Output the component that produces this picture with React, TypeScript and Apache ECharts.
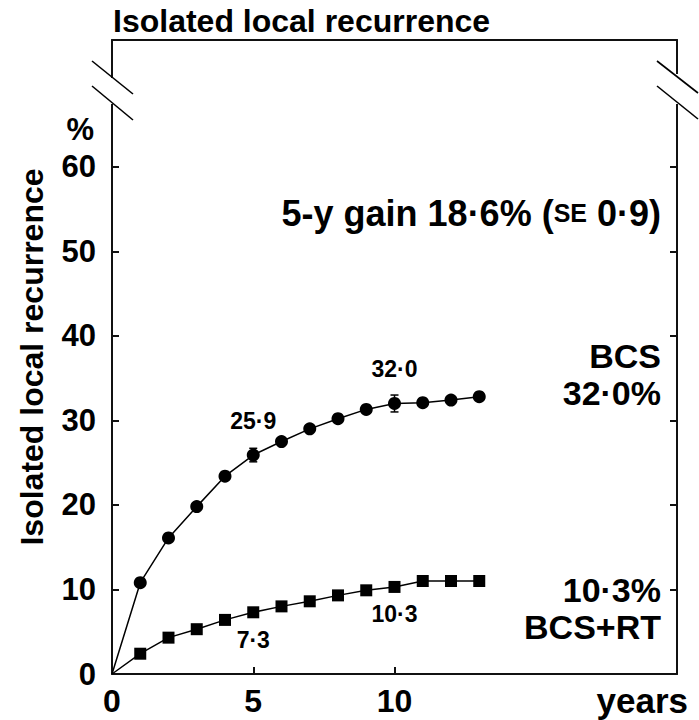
import React, { useEffect, useRef } from "react";
import * as echarts from "echarts";

const years = [0, 1, 2, 3, 4, 5, 6, 7, 8, 9, 10, 11, 12, 13];
const bcs = [0, 10.8, 16.1, 19.8, 23.4, 25.9, 27.5, 29.0, 30.2, 31.3, 32.0, 32.1, 32.4, 32.8];
const bcsRt = [0, 2.4, 4.3, 5.3, 6.4, 7.3, 8.0, 8.6, 9.3, 9.9, 10.3, 11.0, 11.0, 11.0];
const bcsLabelYears = [5, 10];
const bcsLabels = ["25·9", "32·0"];
const rtLabelYears = [5, 10];
const rtLabels = ["7·3", "10·3"];
const errYears = [5, 10];
const errValues = [25.9, 32.0];
const errSize = [0.8, 1.0];
const xTickLabels = [0, 5, 10];
const xTicks = [5, 10];
const yTickLabels = [0, 10, 20, 30, 40, 50, 60];
const yTicks = [10, 20, 30, 40, 50, 60];
const X_MAX = 20;
const Y_MAX = 75;

const FONT = "Liberation Sans, Arial, sans-serif";
const BLACK = "#000000";
const FRAME = "#111111";

export default function App() {
  const ref = useRef<HTMLDivElement>(null);
  useEffect(() => {
    document.body.style.margin = "0";
    const chart = echarts.init(ref.current!, null, { renderer: "svg" });
    const mk = (vals: number[], ly: number[], lt: string[], pos: string, dist: number) =>
      years.map((x, i) => {
        const j = ly.indexOf(x);
        const item: any = { value: [x, vals[i]] };
        if (i === 0) item.symbol = "none";
        if (j >= 0) {
          item.label = {
            show: true,
            position: pos,
            distance: dist,
            formatter: lt[j],
            fontFamily: FONT,
            fontWeight: "bold",
            fontSize: 23,
            color: BLACK,
          };
        }
        return item;
      });
    const axisTxt = { fontFamily: FONT, fontWeight: "bold" as const, fontSize: 31, color: BLACK };
    const frameLine = { show: true, onZero: false, lineStyle: { color: FRAME, width: 2 } };
    const tickSt = { color: FRAME, width: 2 };
    chart.setOption({
      animation: false,
      backgroundColor: "#ffffff",
      title: {
        text: "Isolated local recurrence",
        left: 108,
        top: 0,
        textStyle: { fontFamily: FONT, fontWeight: "bold", fontSize: 32, color: BLACK },
      },
      grid: { left: 112, top: 40, width: 565, height: 634 },
      xAxis: [
        {
          type: "value",
          min: 0,
          max: X_MAX,
          splitLine: { show: false },
          axisLine: frameLine,
          axisTick: { show: true, inside: true, length: 7, customValues: xTicks, lineStyle: tickSt },
          axisLabel: { customValues: xTickLabels, margin: 11, ...axisTxt, fontSize: 32 },
        },
        {
          type: "value",
          position: "top",
          min: 0,
          max: X_MAX,
          splitLine: { show: false },
          axisLine: frameLine,
          axisTick: { show: false },
          axisLabel: { show: false },
        },
      ],
      yAxis: [
        {
          type: "value",
          min: 0,
          max: Y_MAX,
          splitLine: { show: false },
          axisLine: frameLine,
          axisTick: { show: true, inside: true, length: 7, customValues: yTicks, lineStyle: tickSt },
          axisLabel: { customValues: yTickLabels, margin: 16, ...axisTxt },
          name: "Isolated local recurrence",
          nameLocation: "middle",
          nameRotate: 90,
          nameGap: 64,
          nameTextStyle: { ...axisTxt, fontSize: 32 },
        },
        {
          type: "value",
          position: "right",
          min: 0,
          max: Y_MAX,
          splitLine: { show: false },
          axisLine: frameLine,
          axisTick: { show: true, inside: true, length: 7, customValues: yTicks, lineStyle: tickSt },
          axisLabel: { show: false },
        },
      ],
      series: [
        {
          type: "line",
          data: mk(bcs, bcsLabelYears, bcsLabels, "top", 16),
          symbol: "circle",
          symbolSize: 13,
          itemStyle: { color: BLACK },
          lineStyle: { color: BLACK, width: 1.5 },
          z: 3,
        },
        {
          type: "line",
          data: mk(bcsRt, rtLabelYears, rtLabels, "bottom", 10),
          symbol: "rect",
          symbolSize: 12,
          itemStyle: { color: BLACK },
          lineStyle: { color: BLACK, width: 1.5 },
          z: 3,
        },
        {
          type: "custom",
          data: errYears.map((x, i) => [x, errValues[i], errSize[i]]),
          z: 4,
          renderItem: (params: any, api: any) => {
            const x = api.value(0);
            const y = api.value(1);
            const e = api.value(2);
            const p = api.coord([x, y + e]);
            const q = api.coord([x, y - e]);
            const s = { stroke: BLACK, lineWidth: 1.5 };
            return {
              type: "group",
              children: [
                { type: "line", shape: { x1: p[0], y1: p[1], x2: q[0], y2: q[1] }, style: s },
                { type: "line", shape: { x1: p[0] - 4, y1: p[1], x2: p[0] + 4, y2: p[1] }, style: s },
                { type: "line", shape: { x1: q[0] - 4, y1: q[1], x2: q[0] + 4, y2: q[1] }, style: s },
              ],
            };
          },
        },
      ],
      graphic: [
        { type: "rect", shape: { x: 106, y: 78, width: 12, height: 26 }, style: { fill: "#ffffff" }, z: 50 },
        { type: "rect", shape: { x: 671, y: 74, width: 12, height: 30 }, style: { fill: "#ffffff" }, z: 50 },
        { type: "line", shape: { x1: 92, y1: 61, x2: 133, y2: 94 }, style: { stroke: BLACK, lineWidth: 1.6 }, z: 51 },
        { type: "line", shape: { x1: 92, y1: 86, x2: 133, y2: 120 }, style: { stroke: BLACK, lineWidth: 1.6 }, z: 51 },
        { type: "line", shape: { x1: 657, y1: 61, x2: 698, y2: 93 }, style: { stroke: BLACK, lineWidth: 1.6 }, z: 51 },
        { type: "line", shape: { x1: 657, y1: 86, x2: 698, y2: 119 }, style: { stroke: BLACK, lineWidth: 1.6 }, z: 51 },
        {
          type: "text",
          x: 94,
          y: 129,
          style: { text: "%", align: "right", verticalAlign: "middle", font: `bold 31px ${FONT}`, fill: BLACK },
          z: 52,
        },
        {
          type: "text",
          x: 688,
          y: 700,
          style: { text: "years", align: "right", verticalAlign: "middle", font: `bold 35px ${FONT}`, fill: BLACK },
          z: 52,
        },
        {
          type: "text",
          x: 661,
          y: 213,
          style: {
            text: "{a|5-y gain 18·6% (}{b|SE}{a| 0·9)}",
            align: "right",
            verticalAlign: "middle",
            rich: {
              a: { fontFamily: FONT, fontWeight: "bold", fontSize: 36, fill: BLACK, color: BLACK },
              b: { fontFamily: FONT, fontWeight: "bold", fontSize: 25, fill: BLACK, color: BLACK },
            },
          },
          z: 52,
        },
        {
          type: "text",
          x: 661,
          y: 356,
          style: { text: "BCS", align: "right", verticalAlign: "middle", font: `bold 34px ${FONT}`, fill: BLACK },
          z: 52,
        },
        {
          type: "text",
          x: 661,
          y: 393,
          style: { text: "32·0%", align: "right", verticalAlign: "middle", font: `bold 34px ${FONT}`, fill: BLACK },
          z: 52,
        },
        {
          type: "text",
          x: 661,
          y: 590,
          style: { text: "10·3%", align: "right", verticalAlign: "middle", font: `bold 34px ${FONT}`, fill: BLACK },
          z: 52,
        },
        {
          type: "text",
          x: 661,
          y: 627,
          style: { text: "BCS+RT", align: "right", verticalAlign: "middle", font: `bold 34px ${FONT}`, fill: BLACK },
          z: 52,
        },
      ],
    });
    return () => chart.dispose();
  }, []);
  return <div ref={ref} style={{ width: 699, height: 720 }} />;
}
